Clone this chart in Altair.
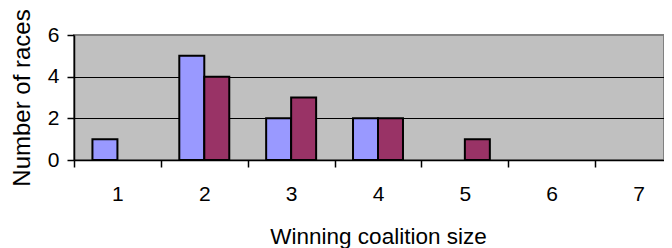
import altair as alt
import pandas as pd

sizes = [1, 2, 3, 4, 5, 6, 7]
series_names = ["Series 1", "Series 2"]
series1_counts = [1, 5, 2, 2, 0, 0, 0]
series2_counts = [0, 4, 3, 2, 1, 0, 0]
colors = ["#9999FF", "#993366"]

rows = []
for s, c1, c2 in zip(sizes, series1_counts, series2_counts):
    rows.append({"size": s, "series": series_names[0], "count": c1})
    rows.append({"size": s, "series": series_names[1], "count": c2})
df = pd.DataFrame(rows)

FONT = "Liberation Sans"

x_axis = alt.Axis(
    labelAngle=0, tickBand="extent", grid=False, domainColor="black",
    domainWidth=1.5, tickColor="black", tickSize=7, tickWidth=1.5,
    labelFont=FONT, labelFontSize=21, labelColor="black", labelPadding=16,
    title="Winning coalition size", titleFont=FONT, titleFontSize=22.5,
    titleFontWeight="normal", titleColor="black",
    titleBaseline="alphabetic", titleY=83, titleX=304,
)
y_axis = alt.Axis(
    values=[0, 2, 4, 6], grid=True, gridColor="black", gridWidth=1,
    gridOpacity={"condition": {"test": "datum.value === 6 || datum.value === 0", "value": 0}, "value": 1},
    domainColor="black", domainWidth=1.5, tickColor="black", tickSize=7,
    tickWidth=1.5, labelFont=FONT, labelFontSize=21, labelColor="black",
    labelPadding=8, title="Number of races", titleFont=FONT, titleFontSize=24,
    titleFontWeight="normal", titleColor="black", titleAngle=270,
    titleBaseline="middle", titleAlign="center", titleX=-52, titleY=62.5,
)

chart = alt.Chart(df).transform_filter("datum.count > 0").mark_bar(
    stroke="black", strokeWidth=2
).encode(
    x=alt.X("size:O", scale=alt.Scale(domain=sizes, range=[0, 608], paddingInner=0, paddingOuter=0), axis=x_axis),
    xOffset=alt.XOffset("series:N", scale=alt.Scale(domain=series_names, paddingInner=0, paddingOuter=0.738)),
    y=alt.Y("count:Q", scale=alt.Scale(domain=[0, 6]), axis=y_axis),
    color=alt.Color("series:N", scale=alt.Scale(domain=series_names, range=colors), legend=None),
).properties(
    width=590, height=125,
    autosize=alt.AutoSizeParams(type="none"),
    padding={"left": 66, "top": 27, "right": 0, "bottom": 88},
).configure_view(
    fill="#C0C0C0", stroke="#808080", strokeWidth=2
)

chart.save("out.html", embed_options={"renderer": "svg", "actions": False})
